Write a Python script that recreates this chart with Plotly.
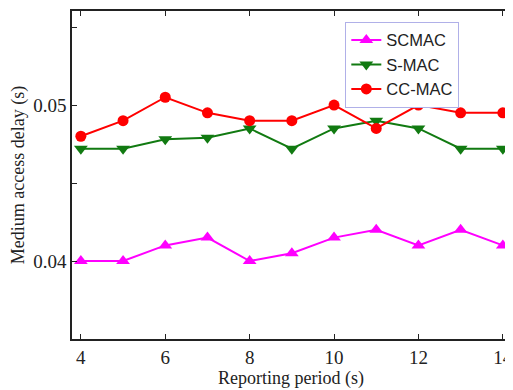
import plotly.graph_objects as go

periods = [4, 5, 6, 7, 8, 9, 10, 11, 12, 13, 14]
scmac = [0.0400, 0.0400, 0.0410, 0.0415, 0.0400, 0.0405, 0.0415, 0.0420, 0.0410, 0.0420, 0.0410]
smac = [0.0472, 0.0472, 0.0478, 0.0479, 0.0485, 0.0472, 0.0485, 0.0490, 0.0485, 0.0472, 0.0472]
ccmac = [0.0480, 0.0490, 0.0505, 0.0495, 0.0490, 0.0490, 0.0500, 0.0485, 0.0500, 0.0495, 0.0495]

x_ticks = [4, 6, 8, 10, 12, 14]
y_ticks = [0.035, 0.040, 0.045, 0.050, 0.055]
y_labels = ["", "0.04", "", "0.05", ""]

fig = go.Figure()
fig.add_trace(go.Scatter(x=periods, y=scmac, name="SCMAC", mode="lines+markers",
                         line=dict(color="#ff00ff", width=2),
                         marker=dict(symbol="triangle-up", size=12, color="#ff00ff")))
fig.add_trace(go.Scatter(x=periods, y=smac, name="S-MAC", mode="lines+markers",
                         line=dict(color="#117a11", width=2),
                         marker=dict(symbol="triangle-down", size=12, color="#117a11")))
fig.add_trace(go.Scatter(x=periods, y=ccmac, name="CC-MAC", mode="lines+markers",
                         line=dict(color="#ff0000", width=2),
                         marker=dict(symbol="circle", size=11, color="#ff0000")))

axis_common = dict(showline=True, linecolor="#222", linewidth=1.5, mirror="ticks",
                   ticks="inside", ticklen=5, tickwidth=1.2, tickcolor="#222",
                   showgrid=False, zeroline=False, ticklabeloverflow="allow",
                   tickfont=dict(family="Liberation Serif", size=19, color="#222"),
                   title_font=dict(family="Liberation Serif", size=18, color="#222"))

# page body has an 8px default margin, so size the figure to end at the window edge
fig.update_layout(
    width=505, height=382,
    margin=dict(l=64, r=0, t=3, b=51),
    paper_bgcolor="white", plot_bgcolor="white",
    xaxis=dict(range=[3.79, 14.17], tickvals=x_ticks,
               title=dict(text="Reporting period (s)", standoff=2), **axis_common),
    yaxis=dict(range=[0.035, 0.05603], tickvals=y_ticks, ticktext=y_labels,
               title=dict(text="Medium access delay (s)", standoff=4), **axis_common),
    legend=dict(x=0.624, y=0.967, xanchor="left", yanchor="top",
                bgcolor="white", bordercolor="#b0b0e8", borderwidth=1,
                font=dict(family="Liberation Sans", size=16.5, color="#222"),
                tracegroupgap=0, itemwidth=30),
    showlegend=True,
)

fig.write_html("out.html")
